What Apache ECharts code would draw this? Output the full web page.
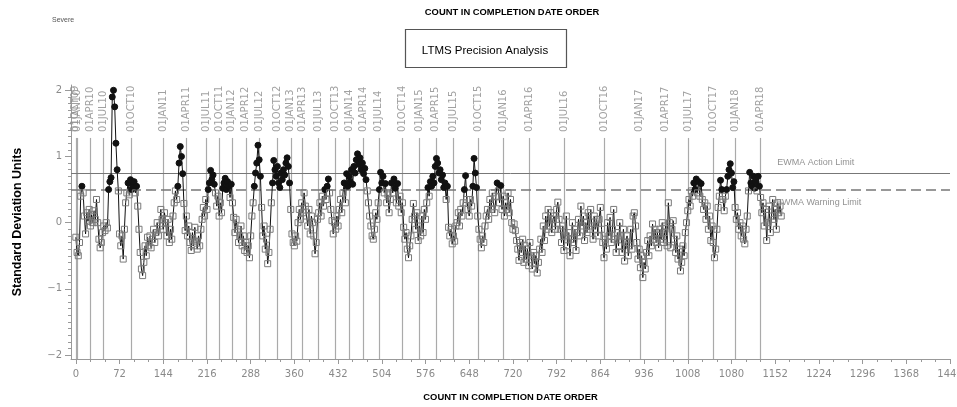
<!DOCTYPE html>
<html>
<head>
<meta charset="utf-8">
<script src="https://cdn.jsdelivr.net/npm/echarts@6/dist/echarts.min.js"></script>
<style>
  html, body { margin: 0; padding: 0; background: #fff; }
  #chart { width: 957px; height: 407px; }
</style>
</head>
<body>
<div id="chart"></div>
<script>
// EWMA of test results in standard deviation units, one value every second test count
const ewmaValues = [
  -0.22, -0.45, -0.5, -0.3, 0.4, 0.55, 0.45, 0.1, -0.17, 0.15,
  0.02, 0.2, -0.05, 0.12, 0.0, 0.18, 0.05, 0.35, 0.0, -0.25,
  -0.38, -0.3, -0.15, -0.05, -0.12, 0.0, -0.08, 0.5, 0.62, 0.68,
  1.9, 2.0, 1.75, 1.2, 0.8, 0.48, -0.17, -0.35, -0.2, -0.55,
  -0.1, 0.3, 0.45, 0.6, 0.42, 0.65, 0.5, 0.55, 0.62, 0.45,
  0.55, 0.25, -0.1, -0.45, -0.7, -0.8, -0.6, -0.35, -0.5, -0.22,
  -0.35, -0.2, -0.38, -0.25, -0.1, -0.3, -0.15, 0.0, -0.2, -0.05,
  0.2, 0.05, -0.1, 0.15, 0.0, -0.2, 0.05, -0.3, -0.1, -0.25,
  0.1, 0.3, 0.48, 0.35, 0.55, 0.9, 1.15, 1.0, 0.74, 0.29,
  -0.12, 0.1, -0.2, -0.05, -0.3, -0.42, -0.15, -0.35, -0.07, -0.28,
  -0.4, -0.2, -0.35, -0.1, 0.05, 0.23, 0.1, 0.35, 0.2, 0.5,
  0.6, 0.79, 0.65, 0.72, 0.58, 0.45, 0.25, 0.4, 0.1, 0.3,
  0.15, 0.52, 0.6, 0.67, 0.5, 0.62, 0.55, 0.38, 0.58, 0.3,
  0.08, -0.15, 0.05, -0.1, -0.3, -0.2, -0.05, -0.35, -0.2, -0.42,
  -0.3, -0.45, -0.35, -0.53, -0.2, 0.1, 0.3, 0.55, 0.75, 0.9,
  1.17, 0.95, 0.7, 0.23, -0.2, -0.05, -0.4, -0.25, -0.62, -0.45,
  -0.1, 0.3, 0.6, 0.94, 0.8, 0.7, 0.85, 0.6, 0.53, 0.75,
  0.65, 0.8, 0.72, 0.9, 0.98, 0.85, 0.6, 0.2, -0.17, -0.3,
  -0.35, -0.2, -0.28, 0.0, 0.2, 0.05, 0.3, 0.15, 0.45, 0.25,
  0.1, -0.05, 0.2, -0.17, 0.1, 0.0, -0.2, -0.47, -0.3, 0.05,
  0.15, 0.3, 0.1, 0.4, 0.25, 0.5, 0.35, 0.55, 0.66, 0.45,
  0.2, 0.03, -0.17, 0.0, -0.1, 0.1, -0.05, 0.2, 0.35, 0.15,
  0.45, 0.6, 0.3, 0.74, 0.55, 0.7, 0.62, 0.8, 0.58, 0.85,
  0.75, 0.95, 1.04, 0.88, 0.98, 0.8, 0.9, 0.74, 0.82, 0.65,
  0.48, 0.3, 0.1, -0.05, -0.2, -0.25, -0.1, 0.15, 0.05, 0.3,
  0.5, 0.76, 0.6, 0.7, 0.45, 0.59, 0.3, 0.42, 0.15, 0.35,
  0.6, 0.45, 0.66, 0.52, 0.3, 0.59, 0.25, 0.4, 0.15, 0.3,
  -0.07, -0.25, -0.15, -0.4, -0.53, -0.35, -0.2, 0.05, 0.29, 0.1,
  -0.1, 0.15, -0.27, -0.05, -0.2, 0.1, -0.15, 0.2, 0.05, 0.3,
  0.53, 0.4, 0.62, 0.55, 0.7, 0.6, 0.85, 0.97, 0.9, 0.75,
  0.8, 0.65, 0.72, 0.53, 0.6, 0.35, 0.55, -0.07, -0.2, -0.1,
  -0.32, -0.2, -0.28, -0.05, 0.0, 0.15, -0.05, 0.2, 0.1, 0.3,
  0.5, 0.71, 0.35, 0.2, 0.1, 0.35, 0.25, 0.55, 0.97, 0.75,
  0.53, 0.1, -0.1, -0.25, -0.38, -0.2, -0.3, -0.05, 0.1, 0.2,
  0.05, 0.35, 0.2, 0.45, 0.3, 0.15, 0.4, 0.6, 0.48, 0.3,
  0.56, 0.2, 0.4, 0.1, 0.3, 0.2, 0.45, 0.15, 0.35, 0.0,
  -0.1, -0.02, -0.12, -0.27, -0.4, -0.57, -0.3, -0.45, -0.25, -0.6,
  -0.35, -0.55, -0.4, -0.65, -0.3, -0.5, -0.7, -0.45, -0.62, -0.5,
  -0.76, -0.6, -0.4, -0.25, -0.45, -0.05, -0.27, 0.1, -0.1, 0.2,
  -0.05, 0.15, -0.15, 0.05, 0.1, -0.1, 0.2, 0.31, 0.05, -0.1,
  -0.3, -0.05, -0.42, -0.2, 0.1, -0.35, -0.15, -0.5, -0.25, 0.0,
  -0.3, -0.1, -0.42, -0.15, 0.05, -0.2, 0.25, -0.05, 0.1, -0.27,
  0.0, -0.15, 0.15, -0.1, 0.2, -0.05, -0.25, 0.1, -0.1, 0.05,
  -0.2, 0.05, 0.23, -0.1, -0.3, -0.53, -0.25, -0.4, 0.0, -0.2,
  0.08, -0.3, -0.1, 0.2, -0.25, -0.45, -0.15, -0.35, 0.0, -0.2,
  -0.45, -0.1, -0.58, -0.3, -0.2, -0.5, -0.35, -0.1, -0.4, 0.1,
  0.15, -0.05, -0.3, -0.55, -0.4, -0.68, -0.5, -0.83, -0.6, -0.7,
  -0.45, -0.27, -0.5, -0.2, -0.35, -0.02, -0.25, -0.1, -0.3, -0.15,
  -0.38, -0.1, -0.25, 0.0, -0.3, -0.15, -0.05, -0.35, 0.3, 0.0,
  -0.38, -0.1, 0.03, -0.25, -0.45, -0.2, -0.55, -0.4, -0.73, -0.6,
  -0.35, -0.5, -0.15, 0.0, 0.18, 0.35, 0.25, 0.48, 0.4, 0.6,
  0.5, 0.66, 0.45, 0.62, 0.4, 0.59, 0.35, 0.2, 0.3, 0.05,
  0.25, -0.1, 0.1, -0.27, -0.05, -0.3, -0.53, -0.4, -0.1, 0.23,
  0.4, 0.64, 0.5, 0.35, 0.18, 0.4, 0.5, 0.7, 0.8, 0.89,
  0.75, 0.53, 0.62, 0.23, 0.05, 0.15, -0.1, 0.0, -0.2, -0.05,
  -0.25, -0.32, -0.1, 0.1, 0.48, 0.76, 0.6, 0.55, 0.7, 0.52,
  0.62, 0.48, 0.7, 0.55, 0.38, 0.15, 0.3, -0.05, 0.2, -0.27,
  0.0, 0.25, -0.15, 0.1, 0.35, 0.05, 0.2, -0.1, 0.3, 0.15,
  0.25, 0.1
];
const countStep = 2;

// control limits
const actionLimit = 0.75;
const warningLimit = 0.5;

// calendar reference lines (test count reached on each date)
const dateNames = [
  '01OCT09', '01JAN10', '01APR10', '01JUL10', '01OCT10',
  '01JAN11', '01APR11', '01JUL11', '01OCT11',
  '01JAN12', '01APR12', '01JUL12', '01OCT12',
  '01JAN13', '01APR13', '01JUL13', '01OCT13',
  '01JAN14', '01APR14', '01JUL14', '01OCT14',
  '01JAN15', '01APR15', '01JUL15', '01OCT15',
  '01JAN16', '01APR16', '01JUL16', '01OCT16',
  '01JAN17', '01APR17', '01JUL17', '01OCT17',
  '01JAN18', '01APR18'
];
const dateCounts = [
  0, 2, 24, 45, 92,
  144, 182, 215, 236,
  257, 280, 302, 332,
  354, 373, 400, 428,
  450, 473, 499, 538,
  566, 593, 622, 663,
  704, 747, 805, 871,
  929, 971, 1009, 1050,
  1087, 1128
];

// axis ticks
const xTickLabels = [0, 72, 144, 216, 288, 360, 432, 504, 576, 648, 720, 792, 864, 936, 1008, 1080, 1152, 1224, 1296, 1368, 1440];
const yTickLabels = [-2, -1, 0, 1, 2];

const xMin = -8, xMax = 1440;
const yMin = -2.06, yMax = 2.08;
const dateLineTop = 1.28;

const xMinorTicks = [];
for (let c = 0; c <= xMax; c += 24) xMinorTicks.push(c);
const yMinorTicks = [];
for (let k = -20; k <= 20; k++) yMinorTicks.push(k / 10);

const narrow = "'Liberation Sans Narrow', 'Liberation Sans', sans-serif";

const pointData = ewmaValues.map((v, i) => {
  const above = v >= warningLimit;
  return {
    value: [i * countStep, v],
    symbol: above ? 'circle' : 'rect',
    symbolSize: 6,
    itemStyle: above
      ? { color: '#111', borderColor: '#111', borderWidth: 1 }
      : { color: 'rgba(255,255,255,0)', borderColor: '#7a7a7a', borderWidth: 1 }
  };
});

const chart = echarts.init(document.getElementById('chart'), null, { renderer: 'canvas' });

const fmtY = v => (v < 0 ? '\u2212' + Math.abs(v) : String(v));

chart.setOption({
  animation: false,
  backgroundColor: '#fff',
  grid: {
    left: 71, right: 7, top: 85, bottom: 48,
    containLabel: false,
    outerBoundsMode: 'none'
  },
  xAxis: [
    {
      type: 'value', min: xMin, max: xMax,
      name: 'COUNT IN COMPLETION DATE ORDER',
      nameLocation: 'middle', nameGap: 34,
      nameTextStyle: { fontFamily: narrow, fontWeight: 'bold', fontSize: 9.4, color: '#000' },
      axisLine: { onZero: false, lineStyle: { color: '#999', width: 1 } },
      axisTick: { show: true, customValues: xTickLabels, length: 5, lineStyle: { color: '#999' } },
      axisLabel: { customValues: xTickLabels, formatter: v => String(v), color: '#8a8a8a', fontSize: 10, margin: 10, fontFamily: 'DejaVu Sans' },
      splitLine: { show: false }
    },
    {
      type: 'value', min: xMin, max: xMax, position: 'bottom',
      axisLine: { show: false, onZero: false },
      axisTick: { show: true, customValues: xMinorTicks, length: 3, lineStyle: { color: '#999' } },
      axisLabel: { show: false },
      splitLine: { show: false }
    }
  ],
  yAxis: [
    {
      type: 'value', min: yMin, max: yMax,
      name: 'Standard Deviation Units',
      nameLocation: 'middle', nameGap: 47,
      nameTextStyle: { fontFamily: 'Liberation Sans', fontWeight: 'bold', fontSize: 12.5, color: '#000' },
      axisLine: { show: true, onZero: false, lineStyle: { color: '#999', width: 1 } },
      axisTick: { show: true, customValues: yTickLabels, length: 6, lineStyle: { color: '#999' } },
      axisLabel: { customValues: yTickLabels, formatter: fmtY, color: '#8a8a8a', fontSize: 10, margin: 9, fontFamily: 'DejaVu Sans' },
      splitLine: { show: false }
    },
    {
      type: 'value', min: yMin, max: yMax, position: 'left',
      axisLine: { show: false, onZero: false },
      axisTick: { show: true, customValues: yMinorTicks, length: 3, lineStyle: { color: '#999' } },
      axisLabel: { show: false },
      splitLine: { show: false }
    }
  ],
  graphic: [
    {
      type: 'text', left: 52, top: 17,
      style: { text: 'Severe', fontSize: 7, fontFamily: 'Liberation Sans', fill: '#555' }
    },
    {
      type: 'text', x: 512, y: 12,
      style: { text: 'COUNT IN COMPLETION DATE ORDER', fontSize: 9.4, fontWeight: 'bold', fontFamily: narrow, fill: '#000', align: 'center', verticalAlign: 'middle' }
    },
    {
      type: 'rect', shape: { x: 405.5, y: 29.5, width: 161, height: 38 },
      style: { fill: 'none', stroke: '#555', lineWidth: 1.2 }
    },
    {
      type: 'text', x: 485, y: 51,
      style: { text: 'LTMS Precision Analysis', fontSize: 11.5, fontFamily: narrow, fill: '#000', align: 'center', verticalAlign: 'middle' }
    }
  ],
  series: [
    {
      // calendar reference lines with their date labels
      name: 'dates',
      type: 'scatter',
      symbolSize: 0,
      z: 1,
      data: dateCounts.map((c, i) => ({ value: [c, dateLineTop], name: dateNames[i] })),
      label: {
        show: true,
        formatter: p => p.name,
        position: 'top',
        distance: 6,
        rotate: 90,
        align: 'left',
        verticalAlign: 'middle',
        color: '#8a8a8a',
        fontSize: 10,
        fontFamily: 'DejaVu Sans'
      },
      labelLayout: { hideOverlap: false },
      markLine: {
        silent: true,
        symbol: ['none', 'none'],
        label: { show: false },
        lineStyle: { color: '#aaa', width: 1.2, type: 'solid' },
        data: dateCounts.map(c => [{ coord: [c, yMin] }, { coord: [c, dateLineTop] }])
      }
    },
    {
      // EWMA limit captions
      name: 'limitCaptions',
      type: 'scatter',
      symbolSize: 0,
      z: 1,
      data: [
        { value: [1152, actionLimit + 0.16], name: 'EWMA Action Limit' },
        { value: [1150, warningLimit - 0.2], name: 'EWMA Warning Limit' }
      ],
      label: {
        show: true,
        formatter: p => p.name,
        position: 'right',
        distance: 2,
        color: '#777',
        fontSize: 9,
        fontFamily: narrow
      }
    },
    {
      name: 'limits',
      type: 'line',
      data: [],
      z: 2,
      markLine: {
        silent: true,
        symbol: ['none', 'none'],
        label: { show: false },
        data: [
          { yAxis: actionLimit, lineStyle: { color: '#777', width: 1, type: 'solid' } },
          { yAxis: warningLimit, lineStyle: { color: '#777', width: 1.5, type: [10, 5] } }
        ]
      }
    },
    {
      name: 'EWMA',
      type: 'line',
      z: 5,
      data: pointData,
      showSymbol: true,
      showAllSymbol: true,
      lineStyle: { color: '#111', width: 1 },
      emphasis: { disabled: true }
    }
  ]
});
</script>
</body>
</html>
